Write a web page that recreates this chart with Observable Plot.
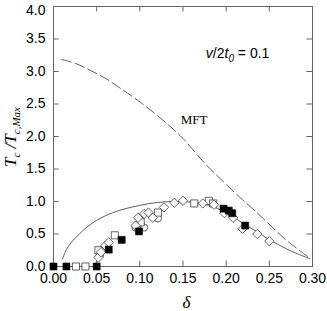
<!DOCTYPE html>
<html><head><meta charset="utf-8">
<script src="https://cdn.jsdelivr.net/npm/d3@7"></script>
<script src="https://cdn.jsdelivr.net/npm/@observablehq/plot@0.6"></script>
<style>body{margin:0;background:#fff}</style>
</head><body><div id="chart"></div>
<script>
const xTicks = [0, 0.05, 0.10, 0.15, 0.20, 0.25, 0.30];
const yTicks = [0, 0.5, 1.0, 1.5, 2.0, 2.5, 3.0, 3.5, 4.0];

const mftD = [0.0093,0.0256,0.043,0.0605,0.0779,0.101,0.1244,0.1488,0.1744,0.1965,0.2174,0.243,0.2674,0.285,0.2977];
const mftY = [3.185,3.123,3.015,2.892,2.738,2.523,2.277,1.985,1.6,1.308,1.046,0.738,0.431,0.246,0.123];

const solD = [0.0105,0.015,0.02,0.03,0.04,0.05,0.06,0.078,0.1,0.12,0.14,0.16,0.18,0.2,0.22,0.24,0.25,0.26,0.27,0.28,0.297];
const solY = [0.12,0.26,0.36,0.5,0.62,0.71,0.78,0.87,0.94,0.985,1.0,0.99,0.94,0.83,0.66,0.5,0.41,0.34,0.27,0.21,0.12];

const filledD = [0, 0.015, 0.05, 0.064, 0.079, 0.099, 0.197, 0.203, 0.207, 0.222];
const filledY = [0, 0, 0, 0.26, 0.41, 0.54, 0.89, 0.86, 0.82, 0.63];

const openSqD = [0.026, 0.037, 0.052, 0.071, 0.101, 0.121, 0.163, 0.180, 0.185];
const openSqY = [0, 0, 0.25, 0.48, 0.68, 0.83, 0.97, 1.01, 0.97];

const diaD = [0.052,0.055,0.06,0.064,0.095,0.098,0.105,0.11,0.115,0.128,0.14,0.15,0.173,0.186,0.198,0.208,0.219,0.236,0.25];
const diaY = [0.14,0.22,0.32,0.37,0.63,0.75,0.81,0.83,0.75,0.91,0.98,1.01,0.97,0.95,0.82,0.75,0.58,0.5,0.39];

const circD = [0.054, 0.095, 0.105, 0.121];
const circY = [0.18, 0.6, 0.6, 0.74];

const zip = (a, b) => a.map((d, i) => ({x: d, y: b[i]}));
const mft = zip(mftD, mftY), sol = zip(solD, solY);
const filled = zip(filledD, filledY), openSq = zip(openSqD, openSqY);
const dia = zip(diaD, diaY), circ = zip(circD, circY);

const lineColor = "#333";
const chart = Plot.plot({
  width: 327, height: 311,
  marginLeft: 53, marginRight: 15, marginTop: 6, marginBottom: 45,
  style: {fontFamily: "'Liberation Sans', Arial, sans-serif", fontSize: "14px", background: "#fff", color: "#000"},
  x: {domain: [0, 0.3]},
  y: {domain: [0, 4]},
  marks: [
    Plot.axisX(xTicks, {tickSize: 0, tickPadding: 7, tickFormat: d3.format(".2f"), label: null, fontSize: 14}),
    Plot.axisY(yTicks.filter(d => d < 4), {tickSize: 0, tickPadding: 8, tickFormat: d3.format(".1f"), label: null, fontSize: 14}),
    Plot.axisY([4], {tickSize: 0, tickPadding: 8, tickFormat: d3.format(".1f"), label: null, fontSize: 14, dy: 4}),
    Plot.ruleX(xTicks.slice(1, -1), {x: d => d, y1: 0, y2: 0.085, stroke: "#666"}),
    Plot.ruleX(xTicks.slice(1, -1), {x: d => d, y1: 3.915, y2: 4, stroke: "#666"}),
    Plot.ruleY(yTicks.slice(1, -1), {y: d => d, x1: 0, x2: 0.0065, stroke: "#666"}),
    Plot.ruleY(yTicks.slice(1, -1), {y: d => d, x1: 0.2935, x2: 0.3, stroke: "#666"}),
    Plot.frame({stroke: "#666"}),
    Plot.line(mft, {x: "x", y: "y", stroke: lineColor, strokeWidth: 0.8, strokeDasharray: "10,4", curve: "catmull-rom"}),
    Plot.line(sol, {x: "x", y: "y", stroke: lineColor, strokeWidth: 0.8, curve: "catmull-rom"}),
    Plot.dot(circ, {x: "x", y: "y", symbol: "circle", r: 3.6, stroke: "#222", fill: "white", strokeWidth: 0.7}),
    Plot.dot(openSq, {x: "x", y: "y", symbol: "square", r: 4, stroke: "#222", fill: "white", strokeWidth: 0.7}),
    Plot.dot(dia, {x: "x", y: "y", symbol: "diamond2", r: 4.2, stroke: "#222", fill: "white", strokeWidth: 0.7}),
    Plot.dot(filled, {x: "x", y: "y", symbol: "square", r: 4, stroke: "#000", fill: "#000", strokeWidth: 0.5})
  ]
});
document.getElementById("chart").appendChild(chart);

const svg = d3.select(chart);
const sx = chart.scale("x"), sy = chart.scale("y");
// y label
const yl = svg.append("text")
  .attr("transform", `translate(16,137) rotate(-90)`)
  .attr("text-anchor", "middle")
  .attr("font-family", "'Liberation Serif', 'Times New Roman', serif")
  .attr("font-style", "italic").attr("font-size", 17).attr("fill", "#000");
yl.append("tspan").text("T");
yl.append("tspan").attr("font-size", 11).attr("dy", 4).text("c");
yl.append("tspan").attr("dy", -4).text(" /T");
yl.append("tspan").attr("font-size", 11).attr("dy", 4).text("c,Max");
// x label
svg.append("text").attr("x", sx.apply(0.1545)).attr("y", 308)
  .attr("text-anchor", "middle")
  .attr("font-family", "'Liberation Serif', 'Times New Roman', serif")
  .attr("font-style", "italic").attr("font-size", 17).attr("fill", "#000").text("δ");
// annotation v/2t0 = 0.1
const an = svg.append("text").attr("x", sx.apply(0.177)).attr("y", sy.apply(3.2))
  .attr("text-anchor", "start")
  .attr("font-family", "'Liberation Sans', Arial, sans-serif")
  .attr("font-size", 14).attr("fill", "#000");
an.append("tspan").attr("font-style", "italic").text("v");
an.append("tspan").text("/2");
an.append("tspan").attr("font-style", "italic").text("t");
an.append("tspan").attr("font-size", 10).attr("font-style", "italic").attr("dy", 4).text("0");
an.append("tspan").attr("dy", -4).text(" = 0.1");
// MFT label
svg.append("text").attr("x", sx.apply(0.148)).attr("y", sy.apply(2.18))
  .attr("text-anchor", "start")
  .attr("font-family", "'Liberation Serif', 'Times New Roman', serif")
  .attr("font-size", 13).attr("fill", "#000").text("MFT");
</script>
</body></html>
